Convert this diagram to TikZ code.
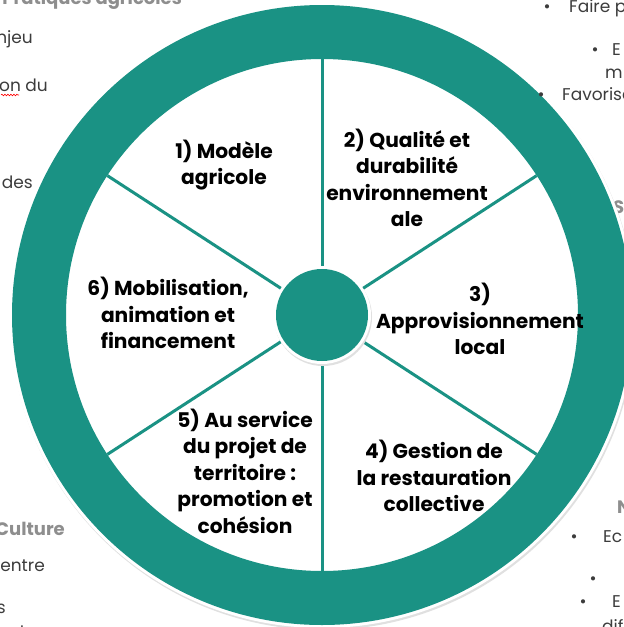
\documentclass[tikz,border=0pt]{standalone}
\usepackage{fontspec}
\setmainfont{Poppins}
\usetikzlibrary{decorations.pathmorphing,calc}
\definecolor{teal1}{HTML}{1A9284}
\definecolor{bgtxt}{HTML}{3C3C3C}
\definecolor{headg}{HTML}{8E8E8E}
\tikzset{
  lbl/.style={align=center, text=black, font=\bfseries\fontsize{20.2}{26.5}\selectfont, inner sep=0pt},
  bgt/.style={text=bgtxt, font=\fontsize{17}{20}\selectfont, inner sep=0pt},
  bgh/.style={text=headg, font=\bfseries\fontsize{18}{20}\selectfont, inner sep=0pt},
  spoke/.style={draw=teal1, line width=3pt},
}
\begin{document}
\begin{tikzpicture}[x=1pt,y=-1pt]
\useasboundingbox (0,0) rectangle (624,627);
\fill[white] (0,0) rectangle (624,627);
% background text fragments
\node[bgh, anchor=base east] (h1) at (182,4) {Pratiques agricoles};
\node[bgt, anchor=base east] (t1) at (33,43) {njeu};
\node[bgt, anchor=base east] (t2) at (48,91) {on du};
\draw[red, line width=0.6pt, decorate, decoration={snake, amplitude=0.8pt, segment length=3pt}] (1,95) -- (19,95);
\node[bgt, anchor=base east] (t3) at (33,188) {des};
\node[bgt, anchor=base] (b1) at (547,12) {•};
\node[bgt, anchor=base west] (t4) at (569,12) {Faire p};
\node[bgt, anchor=base] (b2) at (595,55) {•};
\node[bgt, anchor=base west] (t5) at (612,55) {E};
\node[bgt, anchor=base west] (t6) at (605,78) {m};
\node[bgh, anchor=base west] (h2) at (613,213) {S};
\node[bgh, anchor=base east] (h3) at (65,535) {Culture};
\node[bgt, anchor=base east] (t8) at (45,571) {entre};
\node[bgt, anchor=base east] (t9) at (6,613) {s};
\node[bgt, anchor=base east] (t10) at (26,637) {et};
\node[bgh, anchor=base west] (h4) at (617,513) {N};
\node[bgt, anchor=base] (b4) at (574,542) {•};
\node[bgt, anchor=base west] (t11) at (603,542) {Ec};
\node[bgt, anchor=base] (b5) at (593,584) {•};
\node[bgt, anchor=base] (b6) at (583,607) {•};
\node[bgt, anchor=base west] (t12) at (612,607) {E};
\node[bgt, anchor=base west] (t13) at (602,632) {dif};
% wheel
\coordinate (c) at (322,315);
\fill[black!12] (323,317) circle (313);
\fill[white] (c) circle (313);
\fill[teal1, even odd rule] (c) circle (310) (c) circle (256);
\foreach \a/\n in {90/s1,33/s2,-33/s3,-90/s4,-147/s5,147/s6} {
  \coordinate (\n) at ($(c)+(\a:256 and -256)$);
}
\foreach \n in {s1,s2,s3,s4,s5,s6} { \draw[spoke] (c) -- (\n); }
\fill[black!12] (323,317) circle (49);
\fill[white] (c) circle (49);
\node[circle, fill=teal1, minimum size=92pt, inner sep=0pt] (hub) at (c) {};
% text lying over the ring edge
\node[bgt, anchor=base] (b3) at (541,100) {•};
\node[bgt, anchor=base west] (t7) at (562,100) {Favorise};
% labels
\node[lbl] (l1) at (224,165) {1) Modèle\\agricole};
\node[lbl] (l2) at (407,178) {2) Qualité et\\durabilité\\environnement\\ale};
\node[lbl] (l3) at (480,319) {3)\\Approvisionnement\\local};
\node[lbl] (l4) at (434,476) {4) Gestion de\\la restauration\\collective};
\node[lbl] (l5) at (245,471) {5) Au service\\du projet de\\territoire :\\promotion et\\cohésion};
\node[lbl] (l6) at (168,313) {6) Mobilisation,\\animation et\\financement};
\end{tikzpicture}
\end{document}
